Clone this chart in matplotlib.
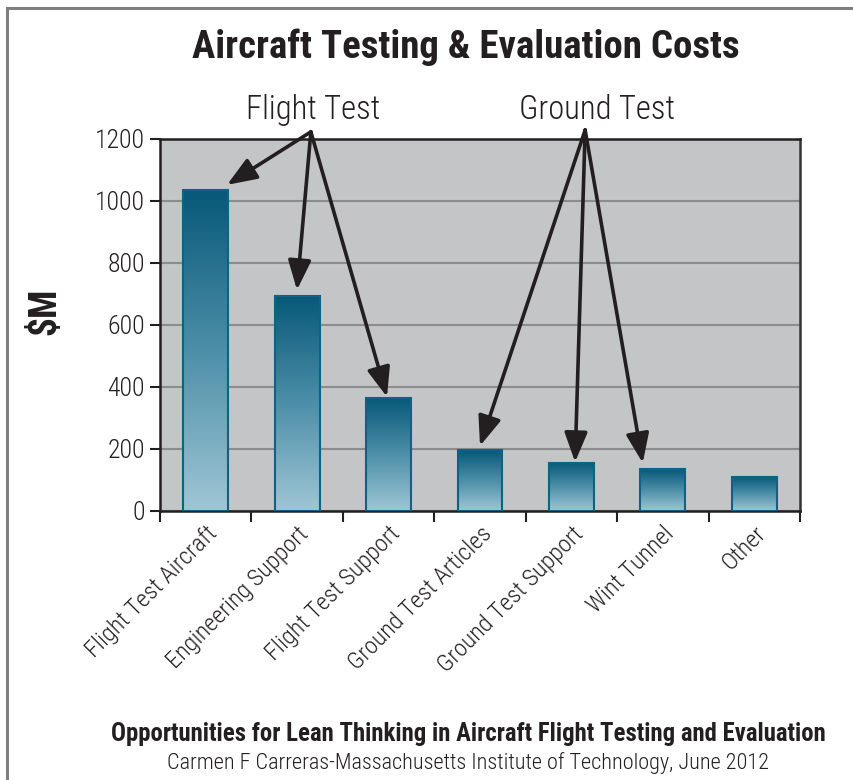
import matplotlib.pyplot as plt
import matplotlib.patches as mpatches
import numpy as np
from matplotlib.colors import LinearSegmentedColormap

# data
categories = ["Flight Test Aircraft", "Engineering Support", "Flight Test Support",
              "Ground Test Articles", "Ground Test Support", "Wint Tunnel", "Other"]
costs = [1034, 694, 365, 196, 156, 135, 110]
yticks = [0, 200, 400, 600, 800, 1000, 1200]

# arrow callouts: group label -> (origin, list of targets) in data units
flight_origin = (1.15, 1223)
flight_targets = [(0.233, 1052), (0.998, 713), (1.983, 368)]
ground_origin = (4.15, 1229)
ground_targets = [(3.0, 210), (4.04, 158), (4.78, 155)]

NARROW = ['Roboto Condensed', 'DejaVu Sans']
ST = 'condensed'
INK = '#231f20'
LIGHT = 'light'

fig = plt.figure(figsize=(8.54, 7.8), dpi=100)
ax = fig.add_axes([160/854, 1-511/780, 640/854, 372/780])
ax.set_facecolor('#c4c5c7')

# gradient bars: dark teal at the top, pale at the bottom of each bar
cmap = LinearSegmentedColormap.from_list('teal', ['#9fc6d5', '#4d8fa8', '#075879'])
grad = np.linspace(1, 0, 256).reshape(-1, 1)
width = 0.49
for i, v in enumerate(costs):
    ax.imshow(grad, extent=[i - width/2, i + width/2, 0, v], aspect='auto',
              cmap=cmap, zorder=2, interpolation='bicubic')
bars = ax.bar(range(len(costs)), costs, width=width, facecolor='none',
              edgecolor='#0e6283', linewidth=1.5, zorder=3)

ax.set_xlim(-0.5, len(costs) - 0.5)
ax.set_ylim(0, 1200)
ax.set_yticks(yticks)
ax.yaxis.grid(True, color='#8c8c8c', linewidth=1.5, zorder=1)
ax.set_axisbelow(True)

# category ticks sit on the boundaries, labels under bar centres
ax.set_xticks(np.arange(len(costs) + 1) - 0.5)
ax.set_xticklabels([])
ax.set_xticks(range(len(costs)), minor=True)
ax.set_xticklabels(categories, minor=True, rotation=45, ha='right',
                   rotation_mode='anchor', family=NARROW, fontstretch=ST,
                   fontweight=LIGHT, fontsize=17.5, color=INK)
ax.tick_params(axis='x', which='minor', length=0, pad=8)
ax.tick_params(axis='x', which='major', length=8, width=1.5, direction='out', color=INK)
ax.tick_params(axis='y', length=7, width=1.5, direction='out', color=INK, pad=4,
               labelsize=18.5, labelcolor=INK)
for lab in ax.get_yticklabels():
    lab.set_family(NARROW)
    lab.set_fontstretch(ST)
    lab.set_fontweight(LIGHT)
for s in ax.spines.values():
    s.set_color(INK)
    s.set_linewidth(1.8)
ax.spines['right'].set_color('#333333')

fig.text(45/854, 1-311/780, r'\$M', rotation=90, ha='center', va='center',
         family=NARROW, fontstretch=ST, fontsize=27, fontweight='bold', color=INK)

# arrows from group labels
arr = dict(arrowstyle='-|>,head_length=0.9,head_width=0.35', lw=2.6, color=INK,
           shrinkA=0, shrinkB=0, mutation_scale=20)
for origin, targets in [(flight_origin, flight_targets), (ground_origin, ground_targets)]:
    for t in targets:
        ax.annotate('', xy=t, xytext=origin, arrowprops=arr, annotation_clip=False, zorder=5)

fig.text(313/854, 1-110/780, 'Flight Test', ha='center', va='center',
         family=NARROW, fontstretch=ST, fontweight=LIGHT, fontsize=23.5, color=INK)
fig.text(597/854, 1-110/780, 'Ground Test', ha='center', va='center',
         family=NARROW, fontstretch=ST, fontweight=LIGHT, fontsize=23.5, color=INK)

fig.text(466/854, 1-47/780, 'Aircraft Testing & Evaluation Costs', ha='center',
         va='center', family=NARROW, fontstretch=ST, fontsize=28, fontweight='bold', color=INK)
fig.text(468/854, 1-734/780,
         'Opportunities for Lean Thinking in Aircraft Flight Testing and Evaluation',
         ha='center', va='center', family=NARROW, fontstretch=ST, fontsize=17.8,
         fontweight='bold', color=INK)
fig.text(468/854, 1-763/780,
         'Carmen F Carreras-Massachusetts Institute of Technology, June 2012',
         ha='center', va='center', family=NARROW, fontstretch=ST, fontweight=LIGHT,
         fontsize=16, color=INK)

# outer frame, runs off the right and bottom edges
frame = mpatches.Rectangle((7/854, -0.1), 1.2, 1.1 - 8/780, transform=fig.transFigure,
                           fill=False, edgecolor='#7f7f7f', linewidth=2.2)
fig.patches.append(frame)

fig.savefig('out.png', dpi=100)
